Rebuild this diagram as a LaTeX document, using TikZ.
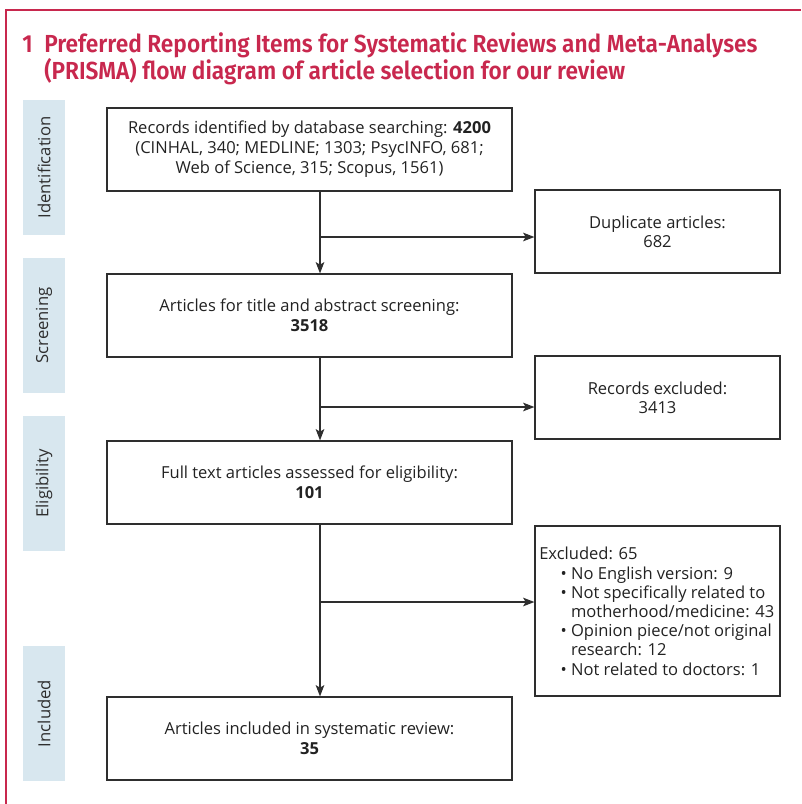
\documentclass[tikz,border=0pt]{standalone}
\usepackage{fontspec}
\setmainfont{Open Sans}
\newfontfamily\titlefont{Fira Sans}[BoldFont=* SemiBold,FakeStretch=0.92]
\usetikzlibrary{arrows.meta,calc}
\definecolor{crim}{HTML}{C8284E}
\definecolor{band}{HTML}{D8E7EF}
\definecolor{ln}{HTML}{2E2E2E}
\definecolor{txt}{HTML}{222222}
\tikzset{
  mainbox/.style={draw=ln,line width=0.9pt,minimum width=303.75pt,minimum height=62.25pt,align=center,inner sep=0pt,font=\fontsize{12.4}{15}\selectfont,text=txt},
  sidebox/.style={draw=ln,line width=0.9pt,minimum width=183.75pt,minimum height=62.25pt,align=center,inner sep=0pt,font=\fontsize{12.4}{14}\selectfont,text=txt},
  bandbox/.style={fill=band,minimum width=31.5pt,minimum height=101.25pt,inner sep=0pt},
  bandtext/.style={rotate=90,font=\fontsize{12.5}{14}\selectfont,text=ln},
  flow/.style={draw=ln,line width=0.9pt,-{Stealth[length=8.5pt,width=6.5pt,inset=2pt]}},
}
\begin{document}
\begin{tikzpicture}[x=0.75pt,y=-0.75pt]
\useasboundingbox (0,0) rectangle (801,804);
% frame
\draw[crim,line width=0.9pt] (6,804) -- (6,10) -- (801,10);
% title
\node[anchor=base west,inner sep=0pt,text=crim,font=\titlefont\bfseries\fontsize{18.5}{20}\selectfont] (num) at (22,52) {1};
\node[anchor=base west,inner sep=0pt,text=crim,font=\titlefont\bfseries\fontsize{18.5}{20}\selectfont] (t1) at (44,52) {Preferred Reporting Items for Systematic Reviews and Meta-Analyses};
\node[anchor=base west,inner sep=0pt,text=crim,font=\titlefont\bfseries\fontsize{18.5}{20}\selectfont] (t2) at (44,79) {(PRISMA) flow diagram of article selection for our review};
% bands
\node[bandbox] (bid) at (44,167.5) {};
\node[bandtext] at (bid) {Identification};
\node[bandbox] (bsc) at (44,325.5) {};
\node[bandtext] at (bsc) {Screening};
\node[bandbox] (bel) at (44,483.5) {};
\node[bandtext] at (bel) {Eligibility};
\node[bandbox] (bin) at (44,713.5) {};
\node[bandtext] at (bin) {Included};
% main boxes
\node[mainbox] (b1) at (309.5,149.5) {Records identified by database searching: \textbf{4200}\\(CINHAL, 340; MEDLINE; 1303; PsycINFO, 681;\\Web of Science, 315; Scopus, 1561)};
\node[mainbox] (b2) at (309.5,315.5) {Articles for title and abstract screening:\\\textbf{3518}};
\node[mainbox] (b3) at (309.5,482.5) {Full text articles assessed for eligibility:\\\textbf{101}};
\node[mainbox] (b4) at (309.5,738.5) {Articles included in systematic review:\\\textbf{35}};
% side boxes
\node[sidebox] (d1) at (657.5,231.5) {Duplicate articles:\\682};
\node[sidebox] (d2) at (657.5,397.5) {Records excluded:\\3413};
\node[sidebox,minimum height=127.5pt] (d3) at (657.5,611) {};
\node[anchor=north west,inner sep=0pt,align=left,font=\fontsize{12.4}{14.4}\selectfont,text=txt] (d3t) at (539,547) {Excluded: 65\\
\hspace*{16pt}• No English version: 9\\
\hspace*{16pt}• Not specifically related to\\
\hspace*{16pt}\phantom{• }motherhood/medicine: 43\\
\hspace*{16pt}• Opinion piece/not original\\
\hspace*{16pt}\phantom{• }research: 12\\
\hspace*{16pt}• Not related to doctors: 1};
% connectors
\coordinate (v) at (320,0);
\coordinate (j1) at (320,237);
\coordinate (j2) at (320,407);
\coordinate (j3) at (320,602);
\draw[flow] (b1.south -| v) -- (b2.north -| v);
\draw[flow] (b2.south -| v) -- (b3.north -| v);
\draw[flow] (b3.south -| v) -- (b4.north -| v);
\draw[flow] (j1) -- (d1.west |- j1);
\draw[flow] (j2) -- (d2.west |- j2);
\draw[flow] (j3) -- (d3.west |- j3);
\end{tikzpicture}
\end{document}
